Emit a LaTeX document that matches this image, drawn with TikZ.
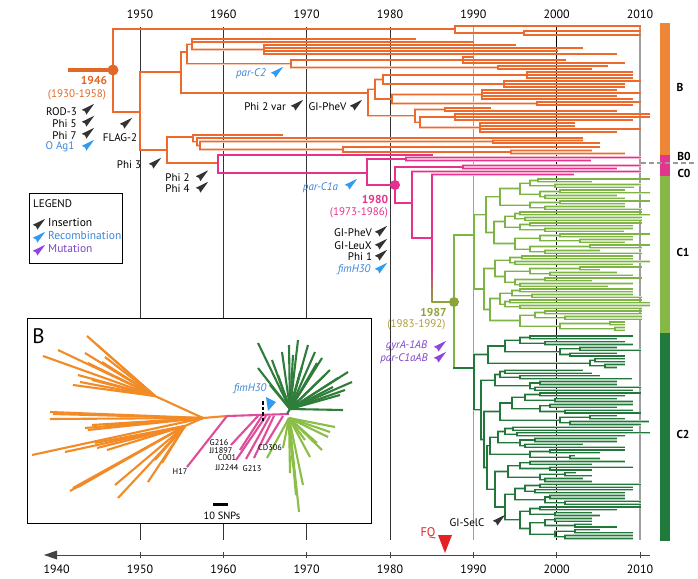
\documentclass[tikz,border=0pt]{standalone}
\usepackage{fontspec}
\setmainfont{PT Sans}
\definecolor{oraT}{HTML}{EE6A2C}
\definecolor{oraR}{HTML}{E0692A}
\definecolor{pnkT}{HTML}{E6318D}
\definecolor{cgA}{HTML}{7DB443}
\definecolor{cgB}{HTML}{22773B}
\definecolor{olvT}{HTML}{8DA33A}
\definecolor{barO}{HTML}{EF8537}
\definecolor{barP}{HTML}{E2358C}
\definecolor{barA}{HTML}{85B847}
\definecolor{barB}{HTML}{1F7A3C}
\definecolor{insO}{HTML}{F28A26}
\definecolor{insP}{HTML}{DE4D9B}
\definecolor{insA}{HTML}{8BBE44}
\definecolor{insB}{HTML}{2F7D3A}
\definecolor{blT}{HTML}{3B86D9}
\definecolor{blW}{HTML}{2F9BF2}
\definecolor{puT}{HTML}{7E45C9}
\definecolor{puW}{HTML}{9045E0}
\definecolor{dkW}{HTML}{333333}
\definecolor{goldT}{HTML}{B29C3C}
\definecolor{fqR}{HTML}{E32227}
\definecolor{axG}{HTML}{444444}

\newcommand\tLf[3]{\draw (#2,#1) -- (#3,#1);}
\newcommand\tVl[3]{\draw (#1,#2) -- (#1,#3);}
\newcommand\tNd[4]{\draw (#1,{(#3+#4)/2}) -- (#2,{(#3+#4)/2}) (#2,#3) -- (#2,#4);}
\newcommand\tLv[2]{\foreach \tyy/\txx in {#2}{\draw (#1,\tyy) -- (\txx,\tyy);}}
\def\tgap{2.75}
\newcommand\tQc[9]{%
\pgfmathsetmacro\tqA{#3}%
\pgfmathsetmacro\tqB{#3+\tgap}%
\pgfmathsetmacro\tqC{#3+2*\tgap}%
\pgfmathsetmacro\tqD{#3+3*\tgap}%
\pgfmathsetmacro\tqE{#3+0.5*\tgap}%
\pgfmathsetmacro\tqF{#3+2.5*\tgap}%
\pgfmathsetmacro\tqM{#3+1.5*\tgap}%
\pgfmathsetmacro\tqX{#2+#4}%
\pgfmathsetmacro\tqY{#2+#5}%
\draw (#1,\tqM) -- (#2,\tqM) (#2,\tqE) -- (#2,\tqF)
 (#2,\tqE) -- (\tqX,\tqE) (\tqX,\tqA) -- (\tqX,\tqB) (\tqX,\tqA) -- (#6,\tqA) (\tqX,\tqB) -- (#7,\tqB)
 (#2,\tqF) -- (\tqY,\tqF) (\tqY,\tqC) -- (\tqY,\tqD) (\tqY,\tqC) -- (#8,\tqC) (\tqY,\tqD) -- (#9,\tqD);%
}
\newcommand\wdg[3]{\fill[#3, shift={(#1,#2)}] (6.2,-5.2) -- (-6.2,0.8) -- (-3,2.4) -- (-1.6,5.6) -- cycle;}

\newcommand\drawtree{%
\begin{scope}[ora]
\tVl{113}{29}{112}
\tLf{29}{113}{455}
\tVl{455}{26}{33}
\tLf{26}{455}{640}
\tLf{33}{455}{524}
\tVl{524}{31}{35}
\tLv{524}{31/640,35/640}
\tLf{112}{113}{140}
\tVl{140}{72}{150}
\tLf{72}{140}{181}
\tVl{181}{52}{93}
\tLf{52}{181}{187}
\tVl{187}{44.25}{63.75}
\tLf{44.25}{187}{192}
\tVl{192}{39}{49.5}
\tLv{192}{39/415,42/473}
\tLf{49.5}{192}{264}
\tVl{264}{45}{54}
\tLv{264}{45/515,48/582,51/557,54/616}
\tLf{63.75}{187}{291}
\tVl{291}{60}{67.5}
\tLf{60}{291}{463}
\tVl{463}{57}{63}
\tLv{463}{57/473,60/565,63/624}
\tLf{67.5}{291}{498}
\tVl{498}{66}{69}
\tLv{498}{66/607,69/591}
\tLf{93}{181}{368}
\tVl{368}{89.25}{115.9}
\tLf{89.25}{368}{375}
\tVl{375}{79.5}{99}
\tLf{79.5}{375}{383}
\tVl{383}{75}{84}
\tLf{75}{383}{527}
\tVl{527}{72}{78}
\tLv{527}{72/632,75/632,78/632}
\tLf{84}{383}{504}
\tVl{504}{81}{87}
\tLv{504}{81/640,84/624,87/624}
\tLf{99}{375}{392}
\tVl{392}{94.5}{103.5}
\tLf{94.5}{392}{482}
\tVl{482}{90}{99}
\tLv{482}{90/616,93/640,96/616,99/632}
\tLf{103.5}{392}{537}
\tVl{537}{102}{105}
\tLv{537}{102/640,105/632}
\tLf{115.9}{368}{415}
\tVl{415}{109.5}{122.25}
\tLf{109.5}{415}{445}
\tVl{445}{108}{111}
\tLv{445}{108/490,111/616}
\tLf{122.25}{415}{420}
\tVl{420}{117}{127.5}
\tLf{117}{420}{455}
\tVl{455}{114}{120}
\tLv{455}{114/649,117/649,120/632}
\tLf{127.5}{420}{480}
\tVl{480}{123}{132}
\tLv{480}{123/574,126/574,129/640,132/616}
\tLf{150}{140}{167}
\tVl{167}{137}{163}
\tLf{137}{167}{193}
\tVl{193}{135}{141.75}
\tLf{135}{193}{282}
\tLf{141.75}{193}{197}
\tVl{197}{138}{145.5}
\tLf{138}{197}{582}
\tLf{145.5}{197}{200}
\tVl{200}{141.5}{149.5}
\tLf{141.5}{200}{493}
\tVl{493}{140.5}{143}
\tLv{493}{140.5/582,143/599}
\tLf{149.5}{200}{343}
\tVl{343}{147}{152}
\tLf{147}{343}{599}
\tLf{152}{343}{511}
\tVl{511}{150.5}{153.5}
\tLv{511}{150.5/591,153.5/624}
\tLf{163}{167}{218}
\end{scope}
\begin{scope}[pnk]
\tVl{218}{155}{173}
\tLf{155}{218}{432}
\tLf{173}{218}{367}
\tVl{367}{159}{185}
\tLf{159}{367}{406}
\tVl{406}{157.5}{160.5}
\tLv{406}{157.5/640,160.5/590}
\tLf{185}{367}{395}
\tVl{395}{167}{203}
\tLf{167}{395}{463}
\tVl{463}{165.5}{168.5}
\tLv{463}{165.5/640,168.5/616}
\tLf{203}{395}{412}
\tVl{412}{171.5}{238}
\tLf{171.5}{412}{640}
\tLf{238}{412}{432}
\tVl{432}{174.5}{265}
\tLf{174.5}{432}{573}
\end{scope}
\begin{scope}[cga]
\def\tgap{2.75}
\tVl{454}{235}{368}
\tLf{235}{454}{474}
\tVl{474}{214.75}{289}
\tNd{474}{486}{196.9}{232.6}
\tNd{486}{500}{188.6}{205.1}
\tNd{500}{520}{183.1}{194.1}
\tQc{520}{530}{179}{8}{25}{649}{591}{640}{633}
\tQc{520}{540}{190}{20}{5}{624}{649}{616}{624}
\tQc{500}{530}{201}{30}{15}{649}{624}{624}{641}
\tNd{486}{494}{221.6}{243.6}
\tNd{494}{505}{216.1}{227.1}
\tQc{505}{515}{212}{5}{10}{641}{649}{641}{641}
\tQc{505}{520}{223}{10}{25}{641}{632}{632}{623}
\tNd{494}{515}{238.1}{249.1}
\tQc{515}{540}{234}{20}{40}{649}{632}{632}{624}
\tQc{515}{530}{245}{60}{15}{649}{641}{599}{641}
\tNd{474}{484}{268.4}{309.6}
\tNd{484}{495}{260.1}{276.6}
\tQc{495}{510}{256}{12}{5}{632}{632}{649}{632}
\tNd{495}{505}{271.1}{282.1}
\tQc{505}{530}{267}{50}{20}{641}{599}{616}{632}
\tQc{505}{515}{278}{30}{5}{641}{591}{632}{607}
\tNd{484}{490}{298.6}{320.6}
\tNd{490}{500}{293.1}{304.1}
\tQc{500}{512}{289}{8}{20}{632}{632}{632}{641}
\tQc{500}{505}{300}{5}{15}{641}{649}{649}{641}
\tNd{490}{520}{315.1}{326.1}
\tQc{520}{535}{311}{10}{30}{641}{641}{641}{641}
\tQc{520}{560}{322}{50}{55}{624}{624}{624}{624}
\end{scope}
\begin{scope}[cgb]
\def\tgap{2.85}
\tLf{368}{454}{474}
\tVl{474}{354.55}{409.85}
\tNd{474}{488}{346}{363.1}
\tNd{488}{505}{340.3}{351.7}
\tQc{505}{520}{336}{10}{25}{632}{616}{624}{632}
\tQc{505}{560}{347.4}{20}{10}{616}{640}{616}{624}
\tQc{488}{590}{358.8}{5}{15}{624}{624}{624}{616}
\tNd{474}{481}{380.2}{439.5}
\tNd{481}{495}{374.5}{385.9}
\tQc{495}{500}{370.2}{5}{20}{582}{591}{599}{631}
\tQc{495}{530}{381.6}{10}{5}{616}{616}{640}{632}
\tNd{481}{484}{411.55}{467.5}
\tNd{484}{500}{403}{420.1}
\tNd{500}{512}{397.3}{408.7}
\tQc{512}{525}{393}{15}{30}{640}{624}{616}{632}
\tQc{512}{540}{404.4}{10}{25}{632}{616}{632}{640}
\tQc{500}{560}{415.8}{30}{10}{616}{624}{648}{640}
\tNd{484}{487}{445.75}{489.2}
\tNd{487}{490}{437.2}{454.3}
\tNd{490}{498}{431.5}{442.9}
\tQc{498}{505}{427.2}{8}{12}{632}{632}{649}{624}
\tQc{498}{520}{438.6}{15}{5}{616}{616}{582}{624}
\tQc{490}{530}{450}{20}{40}{624}{599}{574}{599}
\tNd{487}{495}{471.4}{507}
\tNd{495}{508}{465.7}{477.1}
\tQc{508}{520}{461.4}{10}{30}{624}{591}{632}{591}
\tQc{508}{540}{472.8}{25}{5}{575}{591}{582}{591}
\tNd{495}{505}{494.2}{519.85}
\tNd{505}{515}{488.5}{499.9}
\tQc{515}{525}{484.2}{15}{10}{640}{632}{632}{624}
\tQc{515}{545}{495.6}{5}{20}{624}{624}{640}{640}
\tNd{505}{520}{511.3}{528.4}
\tQc{520}{530}{507}{10}{25}{640}{616}{591}{599}
\tNd{520}{530}{522.7}{534.1}
\tQc{530}{545}{518.4}{10}{30}{591}{591}{591}{616}
\tQc{530}{555}{529.8}{20}{10}{599}{632}{632}{632}
\end{scope}
}

\tikzset{
 lb/.style={font=\fontsize{11}{12}\selectfont, inner sep=0pt},
 lbi/.style={font=\fontsize{11}{12}\selectfont\itshape, inner sep=0pt},
 lbb/.style={font=\fontsize{11.5}{13}\selectfont\bfseries, inner sep=0pt},
 yrl/.style={font=\fontsize{12}{13}\selectfont, inner sep=0pt},
 sml/.style={font=\fontsize{8.3}{9}\selectfont, inner sep=0pt},
 ray/.style={line width=2.1pt}
}

\begin{document}
\begin{tikzpicture}[x=1pt,y=-1pt]
\useasboundingbox (0,0) rectangle (698,578);
\fill[white] (0,0) rectangle (698,578);

% year grid lines
\foreach \xx/\cc/\ww in {140/black!80/0.8,223.3/black!80/0.8,306.7/black!80/0.8,390/black!80/0.8,473.3/gray!75/1.3,556.7/black/0.8,640/gray!75/1.3}
  \draw[\cc, line width=\ww pt] (\xx,27) -- (\xx,540);

% top year labels
\foreach \yr in {1950,1960,1970,1980,1990,2000,2010}
  \node[yrl] (top\yr) at ({140+(\yr-1950)*8.3333},14) {\yr};

% tree: halo pass
\tikzset{ora/.style={draw=oraT!35,line width=2.3pt,line cap=rect},
 pnk/.style={draw=pnkT!35,line width=2.3pt,line cap=rect},
 cga/.style={draw=cgA!35,line width=2.3pt,line cap=rect},
 cgb/.style={draw=cgB!35,line width=2.3pt,line cap=rect}}
\drawtree
% tree: core pass
\tikzset{ora/.style={draw=oraT,line width=1.1pt,line cap=rect},
 pnk/.style={draw=pnkT,line width=1.1pt,line cap=rect},
 cga/.style={draw=cgA,line width=1.1pt,line cap=rect},
 cgb/.style={draw=cgB,line width=1.1pt,line cap=rect}}
\drawtree
\shade[top color=pnkT, bottom color=olvT] (431.45,265) rectangle (432.55,302.5);
\draw[olvT, line width=1.1pt] (432,302) -- (454,302);

% root stem and dots
\draw[oraR, line width=4pt] (68,70) -- (113,70);
\fill[oraR] (113,70) circle (5.5pt);
\fill[pnkT] (395,185) circle (5pt);
\fill[olvT] (454,302) circle (5pt);

% dated labels
\node[lbb, text=oraR] (d1946) at (94,80) {1946};
\node[lb, text=oraR] (r1946) at (77,95) {(1930-1958)};
\node[lbb, text=pnkT] (d1980) at (375,199) {1980};
\node[lb, text=pnkT] (r1980) at (359,213) {(1973-1986)};
\node[lbb, text=olvT] (d1987) at (433.5,312) {1987};
\node[lb, text=goldT] (r1987) at (416.5,325) {(1983-1992)};

% event labels and wedges
\node[lb] (e1) at (61.5,112) {ROD-3}; \wdg{88}{109}{dkW}
\node[lb] (e2) at (64.5,124) {Phi 5}; \wdg{88}{121}{dkW}
\node[lb] (e3) at (64.5,136) {Phi 7}; \wdg{88}{133}{dkW}
\node[lb, text=blT] (e4) at (60,147) {O Ag1}; \wdg{88}{145}{blW}
\node[lb] (e5) at (120,138) {FLAG-2}; \wdg{126}{123}{dkW}
\node[lb] (e6) at (129,165) {Phi 3}; \wdg{155}{163}{dkW}
\node[lb] (e7) at (177.5,178) {Phi 2}; \wdg{202}{175.5}{dkW}
\node[lb] (e8) at (177.5,189) {Phi 4}; \wdg{202}{187}{dkW}
\node[lbi, text=blT] (e9) at (251,74) {par-C2}; \wdg{277}{72}{blW}
\node[lb] (e10) at (265,107) {Phi 2 var}; \wdg{297}{105}{dkW}
\node[lb] (e11) at (327.5,107) {GI-PheV}; \wdg{356}{105}{dkW}
\node[lbi, text=blT] (e12) at (320.5,188) {par-C1a}; \wdg{351}{184}{blW}
\node[lb] (e13) at (353,233) {GI-PheV}; \wdg{381}{231}{dkW}
\node[lb] (e14) at (353,246) {GI-LeuX}; \wdg{381}{244}{dkW}
\node[lb] (e15) at (360,257) {Phi 1}; \wdg{381}{255}{dkW}
\node[lbi, text=blT] (e16) at (354,270) {fimH30}; \wdg{381}{268}{blW}
\node[lbi, text=puT] (e17) at (406.5,346) {gyrA-1AB}; \wdg{440}{346}{puW}
\node[lbi, text=puT] (e18) at (404,359) {par-C1aAB}; \wdg{440}{357}{puW}
\node[lb] (e19) at (467,523) {GI-SelC}; \wdg{499}{520}{dkW}
\node[font=\fontsize{12.5}{14}\selectfont, inner sep=0pt, text=fqR] (fq) at (428,533) {FQ};
\fill[fqR] (438,535) -- (452,535) -- (445,553) -- cycle;

% legend
\draw[line width=1pt, fill=white] (29,193) rectangle (122,263);
\node[lb, anchor=west] (lgT) at (33,204) {LEGEND};
\wdg{39}{224}{dkW}\wdg{39}{237}{blW}\wdg{39}{250}{puW}
\node[lb, font=\fontsize{11.5}{13}\selectfont, anchor=west] (lg1) at (48,222) {Insertion};
\node[lb, font=\fontsize{11.5}{13}\selectfont, anchor=west, text=blT] (lg2) at (48,235) {Recombination};
\node[lb, font=\fontsize{11.5}{13}\selectfont, anchor=west, text=puT] (lg3) at (48,248) {Mutation};

% color bar and clade labels
\fill[barO] (660,23) rectangle (670,155);
\fill[barP] (660,155) rectangle (670,176);
\fill[barA] (660,176) rectangle (670,333);
\fill[barB] (660,333) rectangle (670,541);
\draw[gray!80, line width=1.2pt, dash pattern=on 5pt off 3pt] (641,163) -- (695,163);
\node[lbb] (cB) at (680,87) {B};
\node[lbb] (cB0) at (684,156) {B0};
\node[lbb] (cC0) at (684,173) {C0};
\node[lbb] (cC1) at (683,252) {C1};
\node[lbb] (cC2) at (683,434) {C2};

% inset
\draw[line width=1pt, fill=white] (27,318) rectangle (371,523);
\node[font=\fontsize{21}{21}\selectfont, inner sep=0pt] (insLab) at (38.5,336) {B};
\coordinate (H) at (203,418);
\coordinate (S) at (155,396);
\coordinate (Q) at (185,426);
\draw[insO, ray] (H) -- (S) (H) -- (Q) (H) -- (227,416);
\foreach \px/\py in {87/336,58/350,43/356,85/353,105/357,78/375,73/385,88/363,80/382,102/362,92/380,96/344}
  \draw[insO, ray] (S) -- (\px,\py);
\foreach \px/\py in {50/412,53/414,50/419,85/428,88/430,92/425,105/425,32/455}
  \draw[insO, ray] (H) -- (\px,\py);
\foreach \px/\py in {65/452,97/448,107/450,95/443,70/491,73/488,78/487,115/485,118/498,148/482,162/463,155/460}
  \draw[insO, ray] (Q) -- (\px,\py);
\coordinate (D) at (290,409);
\foreach \px/\py in {258/343,258/368,272/360,282/352,289/345,293/355,298/340,302/367,308/345,312/373,315/352,317/363,322/358,325/375,330/370,333/387,338/378,340/395,343/410,345/390,348/372,352/382,300/372,270/385,278/375}
  \draw[insB, ray] (D) -- (\px,\py);
\coordinate (L) at (289,418);
\foreach \px/\py in {299/512,267/458,335/427,328/437,293/467,290/473,310/457,317/443,303/485,296/495,283/448,322/450,305/440,330/432}
  \draw[insA, ray] (L) -- (\px,\py);
\draw[insP, ray] (227,416) -- (289,414);
\draw[insP, ray] (227,416) -- (187,467);
\foreach \s/\ex/\ey in {258/231/445,262/240/450,266/236/460,270/246/459,274/254/458,283/266/444}
  \draw[insP, ray] (\s,416) -- (\ex,\ey);
\draw[insB, ray] (287,414) -- (D);
\draw[black, line width=2.2pt, dash pattern=on 3.5pt off 2pt] (263,401) -- (263,421);
\fill[blW] (266,397) -- (276,402) -- (268,411) -- cycle;
\node[lbi, text=blT] (insF) at (250,389) {fimH30};
\node[sml] (g1) at (219,443) {G216};
\node[sml] (g2) at (221,451) {JJ1897};
\node[sml] (g3) at (227,458) {C001};
\node[sml] (g4) at (227,468) {JJ2244};
\node[sml] (g5) at (252,469) {G213};
\node[sml] (g6) at (270,448) {CD306};
\node[sml] (g7) at (180,472) {H17};
\draw[line width=3pt] (213,504) -- (228,504);
\node[lb, font=\fontsize{10.5}{12}\selectfont] (snp) at (222,516) {10 SNPs};

% bottom axis
\draw[axG, line width=1pt] (54,555) -- (650,555);
\fill[axG] (44,555) -- (57,550.5) -- (57,559.5) -- cycle;
\foreach \yr in {1940,1950,1960,1970,1980,1990,2000,2010} {
  \draw[axG, line width=0.8pt] ({140+(\yr-1950)*8.3333},552) -- ({140+(\yr-1950)*8.3333},558);
  \node[yrl] (bot\yr) at ({140+(\yr-1950)*8.3333},569) {\yr};
}
\end{tikzpicture}
\end{document}
